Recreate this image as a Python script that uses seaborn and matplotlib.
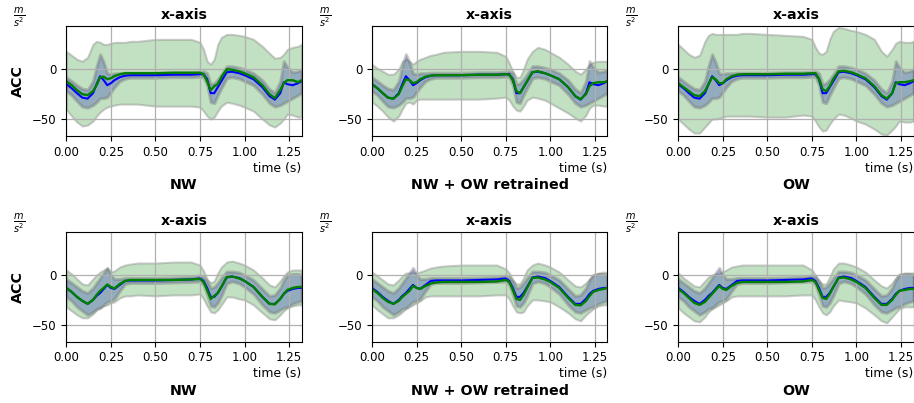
import matplotlib
matplotlib.use("Agg")
import matplotlib.pyplot as plt
import seaborn as sns
import numpy as np

# ---------------- data ----------------
time_s = [0, 0.03, 0.06, 0.09, 0.12, 0.15, 0.17, 0.19, 0.21, 0.23, 0.25, 0.27, 0.3, 0.33, 0.36, 0.4,
          0.5, 0.6, 0.7, 0.75, 0.77, 0.79, 0.81, 0.83, 0.85, 0.87, 0.9, 0.93, 0.97, 1.0, 1.05, 1.1,
          1.14, 1.17, 1.2, 1.22, 1.24, 1.27, 1.3, 1.32]

panel_titles = ["NW", "NW + OW retrained", "OW"]

# reference (blue) mean and std, top row
truth_top = [-15, -19, -24, -28.5, -29.5, -24, -15, -7, -11, -16, -14, -11, -8, -6.5, -6, -6,
             -6, -5.5, -5.5, -5, -5, -10, -24, -24, -18, -12, -3, -2.5, -4, -6, -10, -18,
             -27, -30.5, -24, -13, -15, -16, -14, -12]
truth_top_sd = [7, 7, 8, 9, 9, 12, 18, 22, 18, 12, 9, 7, 4, 3, 2.5, 2.5,
                2.5, 2.5, 2.5, 2.5, 3, 6, 9, 10, 8, 7, 6, 5.5, 5.5, 6, 6, 7,
                7, 7, 12, 21, 17, 13, 12, 12]

# reference (blue) mean and std, bottom row
truth_bot = [-13, -17, -22, -26, -29, -25, -21, -18, -14, -10, -13, -14, -10, -6, -5.5, -5.5,
             -5.5, -5, -4.5, -3.5, -6, -13, -22, -22, -18, -12, -2.5, -1.5, -3, -6, -12, -22,
             -29, -29, -24, -19, -16, -14, -13, -13]
truth_bot_sd = [9, 9, 10, 10, 11, 12, 13, 15, 16, 17, 13, 10, 6, 3, 2.5, 2.5,
                2.5, 2.5, 2.5, 3, 4, 7, 9, 10, 10, 9, 6, 5, 5.5, 6, 7, 8,
                8, 9, 11, 14, 16, 15, 14, 13]

# predictions (green): mean, lower and upper bound, top row
pred_top_nw = [-12, -16, -21, -25, -26, -22, -16, -8, -7.5, -10, -9, -7, -5, -4, -4, -4,
               -4, -3.5, -3.5, -3.5, -5, -12, -21, -17, -15, -8, 0, -0.5, -2, -4, -8, -16,
               -25, -29, -21, -14, -11, -11, -13, -11]
pred_top_nw_lo = [-40, -47, -53, -57, -56, -52, -47, -43, -40, -38, -37, -36, -35, -35, -35, -35,
                  -37, -37, -37, -38, -42, -47, -50, -48, -42, -37, -33, -34, -36, -38, -42, -50,
                  -56, -58, -54, -50, -45, -46, -48, -48]
pred_top_nw_hi = [18, 14, 10, 8, 12, 25, 28, 27, 25, 25, 26, 27, 27, 27, 28, 28,
                  30, 30, 30, 27, 20, 8, 5, 10, 25, 32, 35, 35, 34, 33, 30, 23,
                  16, 11, 12, 15, 20, 22, 23, 25]

pred_top_rt = [-15, -19, -24, -28.5, -29.5, -25, -17, -10, -11, -14, -13, -10, -7.5, -6.5, -6, -6,
               -6, -5.5, -5.5, -5, -5.5, -11, -22, -24, -18, -12, -3, -2, -4, -6, -10, -18,
               -27, -30, -25, -17, -14, -13, -13, -12]
pred_top_rt_lo = [-33, -37, -42, -48, -52, -47, -40, -34, -33, -35, -31, -30, -30, -30, -30, -30,
                  -30, -30, -29, -28, -31, -37, -41, -42, -37, -31, -28, -29, -31, -34, -39, -44,
                  -49, -52, -46, -39, -36, -36, -37, -37]
pred_top_rt_hi = [5, 1, -2, -5, -5, 0, 8, 10, 8, 5, 8, 10, 12, 14, 15, 17,
                  18, 18, 17, 13, 6, -2, -8, -8, 0, 10, 18, 22, 20, 17, 12, 5,
                  -2, -5, 0, 5, 7, 8, 8, 8]

pred_top_ow = [-14, -18, -22, -26, -27, -22, -15, -8, -10, -14, -14, -10, -7, -5.5, -5, -5,
               -5, -4.5, -4.5, -4, -4, -10, -20, -22, -17, -10, -2, -1.5, -3, -5, -9, -17,
               -26, -29.5, -24, -14, -13, -13, -12, -11]
pred_top_ow_lo = [-50, -55, -60, -64, -64, -58, -54, -50, -50, -49, -48, -47, -47, -47, -47, -47,
                  -48, -48, -46, -47, -52, -58, -62, -61, -55, -50, -45, -46, -49, -52, -55, -60,
                  -65, -66, -61, -57, -52, -53, -53, -52]
pred_top_ow_hi = [25, 20, 15, 12, 14, 28, 34, 36, 35, 35, 35, 35, 35, 35, 36, 36,
                  35, 34, 33, 30, 22, 16, 15, 18, 30, 38, 42, 41, 39, 38, 35, 30,
                  18, 13, 20, 26, 28, 27, 27, 28]

# predictions (green), bottom row
pred_bot_nw = [-13, -17, -22, -26, -29, -25, -20, -16, -13, -9.5, -12, -13.5, -9, -6, -5, -5,
               -5, -5, -4.5, -4, -7, -15, -24, -21, -18, -12, -2, -1.5, -3.5, -6, -12, -22,
               -29, -29.5, -24, -19, -15, -13, -12, -12]
pred_bot_nw_lo = [-32, -36, -40, -43, -43, -39, -35, -33, -31, -30, -28, -27, -23, -21, -21, -20,
                  -21, -20, -20, -19, -24, -31, -37, -38, -35, -30, -22, -22, -24, -25, -30, -38,
                  -44, -45, -40, -36, -33, -31, -30, -30]
pred_bot_nw_hi = [5, 1, -4, -9, -10, -4, 0, 3, 5, 7, 3, 4, 8, 10, 11, 12,
                  12, 13, 13, 10, 4, -4, -8, -6, 2, 8, 13, 14, 12, 10, 5, -3,
                  -10, -12, -6, -1, 3, 5, 5, 5]

pred_bot_rt = [-14, -18, -23, -27, -29, -26, -22, -19, -16, -11, -13, -14, -11, -8.5, -7.5, -7,
               -7, -7, -6.5, -5, -7, -15, -24, -25, -20, -13, -3, -2.5, -4.5, -7, -13, -23,
               -30, -30.5, -26, -21, -17, -15, -14, -13]
pred_bot_rt_lo = [-30, -35, -39, -43, -43, -40, -37, -34, -32, -30, -28, -26, -22, -21, -21, -21,
                  -21, -21, -20, -20, -24, -31, -37, -38, -37, -31, -25, -25, -26, -27, -32, -38,
                  -44, -46, -40, -37, -34, -31, -30, -30]
pred_bot_rt_hi = [3, -1, -5, -9, -10, -5, -1, 2, 2, 3, 2, 3, 5, 7, 8, 9,
                  10, 10, 10, 6, 2, -5, -9, -9, -3, 5, 10, 12, 10, 8, 3, -5,
                  -11, -12, -8, -4, 0, 2, 3, 2]

pred_bot_ow = [-14, -18, -23, -28, -30, -27, -23, -19, -15, -11, -14, -15, -11, -8, -7, -7,
               -7, -7, -6.5, -5, -7, -15, -23, -24, -19, -12, -3, -2.5, -4.5, -7, -13, -23,
               -30, -30, -25, -20, -16, -15, -14, -14]
pred_bot_ow_lo = [-33, -38, -42, -46, -47, -42, -37, -34, -32, -30, -28, -26, -22, -21, -21, -21,
                  -21, -21, -20, -20, -25, -32, -38, -40, -37, -31, -25, -26, -27, -28, -33, -40,
                  -46, -48, -42, -38, -34, -32, -32, -32]
pred_bot_ow_hi = [2, -3, -7, -11, -12, -6, -2, 0, 1, 2, 3, 5, 8, 9, 10, 10,
                  10, 10, 10, 5, 0, -6, -9, -9, -2, 6, 12, 12, 10, 8, 3, -5,
                  -11, -13, -8, -3, 1, 2, 2, 2]

rows = [
    (truth_top, truth_top_sd,
     [(pred_top_nw, pred_top_nw_lo, pred_top_nw_hi),
      (pred_top_rt, pred_top_rt_lo, pred_top_rt_hi),
      (pred_top_ow, pred_top_ow_lo, pred_top_ow_hi)]),
    (truth_bot, truth_bot_sd,
     [(pred_bot_nw, pred_bot_nw_lo, pred_bot_nw_hi),
      (pred_bot_rt, pred_bot_rt_lo, pred_bot_rt_hi),
      (pred_bot_ow, pred_bot_ow_lo, pred_bot_ow_hi)]),
]

# ---------------- plot ----------------
fig = plt.figure(figsize=(9.14, 4.03), dpi=100)
lefts = [0.0725, 0.407, 0.742]
bottoms = [0.6625, 0.152]
w, h = 0.2575, 0.272

t = np.array(time_s)
for r, (tm, tsd, preds) in enumerate(rows):
    tm = np.array(tm)
    tsd = np.array(tsd)
    for c, (pm, plo, phi) in enumerate(preds):
        ax = fig.add_axes([lefts[c], bottoms[r], w, h])
        ax.fill_between(t, plo, phi, facecolor=(0, 0.5, 0, 0.24),
                        edgecolor=(0.5, 0.5, 0.5, 0.38), linewidth=1.5)
        ax.fill_between(t, tm - tsd, tm + tsd, facecolor=(0.15, 0.2, 0.7, 0.3),
                        edgecolor=(0.45, 0.45, 0.45, 0.38), linewidth=2.2)
        sns.lineplot(x=t, y=tm, ax=ax, color="blue", linewidth=1.5, sort=False)
        sns.lineplot(x=t, y=pm, ax=ax, color="green", linewidth=1.7, sort=False)
        ax.set_xlim(0, 1.32)
        ax.set_ylim(-67, 43)
        ax.set_xticks([0, 0.25, 0.5, 0.75, 1.0, 1.25])
        ax.set_xticklabels(["0.00", "0.25", "0.50", "0.75", "1.00", "1.25"])
        ax.set_yticks([-50, 0])
        ax.tick_params(labelsize=8.5)
        ax.grid(True, color="#b0b0b0", linewidth=0.9)
        ax.set_title("x-axis", fontsize=10.2, fontweight="bold", pad=5)
        ax.set_xlabel("time (s)", fontsize=8.9, loc="right", labelpad=2)
        ax.set_ylabel("")
        ax.annotate(r"$\frac{m}{s^2}$", xy=(0, 1), xycoords="axes fraction",
                    xytext=(-47, 9), textcoords="offset pixels",
                    ha="center", va="center", fontsize=10)
        ax.annotate(panel_titles[c], xy=(0.5, 0), xycoords="axes fraction",
                    xytext=(0, -49), textcoords="offset pixels",
                    ha="center", va="center", fontsize=10.3, fontweight="bold")
        if c == 0:
            ax.annotate("ACC", xy=(0, 0.5), xycoords="axes fraction",
                        xytext=(-48, 0), textcoords="offset pixels", rotation=90,
                        ha="center", va="center", fontsize=10.3, fontweight="bold")

fig.savefig("out.png", dpi=100)
